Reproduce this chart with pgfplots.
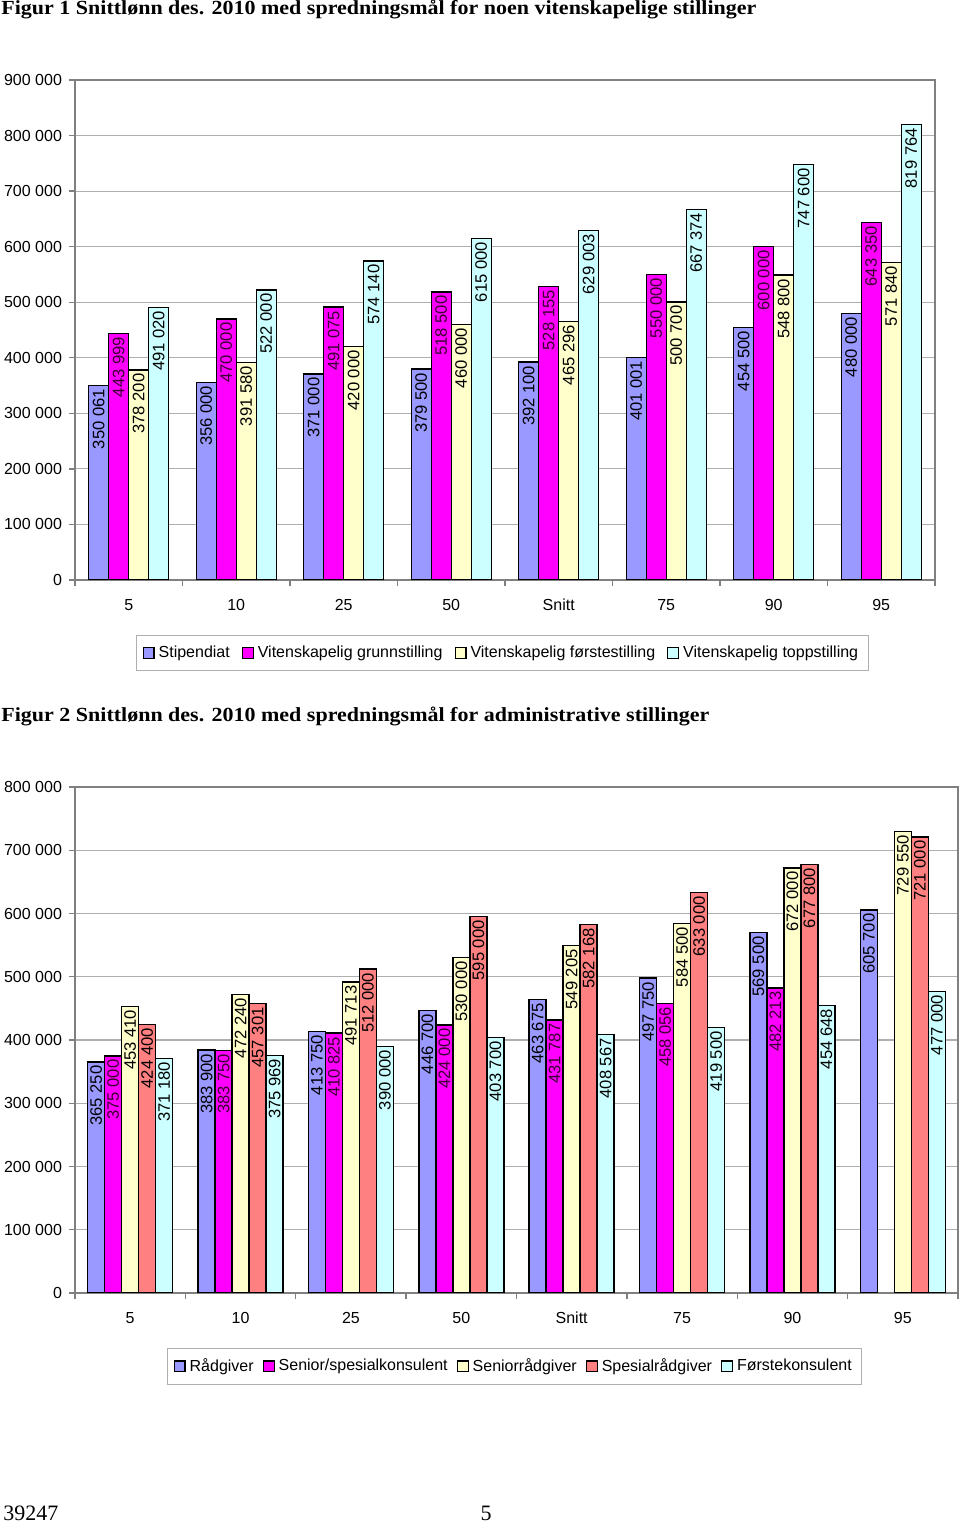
\documentclass[border=0pt]{standalone}
\usepackage{fontspec}
\setmainfont{Liberation Sans}
\newfontfamily\seriffont{Liberation Serif}
\newfontfamily\titlefont{Liberation Serif}[FakeStretch=1.10]
\usepackage{pgfplots}
\pgfplotsset{compat=1.18}

\definecolor{cblue}{RGB}{153,153,255}
\definecolor{cmag}{RGB}{255,0,255}
\definecolor{cyel}{RGB}{255,255,204}
\definecolor{ccyan}{RGB}{204,255,255}
\definecolor{cred}{RGB}{255,128,128}
\definecolor{lblmag}{RGB}{60,0,50}
\definecolor{axgray}{RGB}{128,128,128}
\definecolor{gridgray}{RGB}{175,175,175}

\pgfplotsset{
  mychart/.style={
    scale only axis,
    ybar=0pt,
    xmin=-0.5, xmax=7.5,
    xtick={-0.5,0.5,...,7.5},
    xticklabels={5,10,25,50,Snitt,75,90,95},
    x tick label as interval,
    ymin=0,
    scaled y ticks=false,
    /pgf/number format/.cd, fixed, precision=0, 1000 sep={\ }, assume math mode=true,
    /pgfplots/.cd,
    tick align=outside,
    xtick pos=bottom, ytick pos=left,
    major tick length=3pt,
    axis line style={axgray, line width=0.7pt},
    tick style={axgray, line width=0.7pt},
    ymajorgrids,
    grid style={gridgray, line width=0.6pt},
    ticklabel style={font=\fontsize{8}{9.6}\selectfont},
    xticklabel style={yshift=-3pt},
    nodes near coords,
    every node near coord/.append style={rotate=90, anchor=east, inner sep=1.5pt,
      font=\fontsize{8.3}{10}\selectfont, text=black},
    legend columns=-1,
    legend style={draw=gridgray, line width=0.6pt, font=\fontsize{8}{9.6}\selectfont,
      inner xsep=3pt, inner ysep=3pt,
      /tikz/every even column/.append style={column sep=4pt}},
    legend cell align=left,
    legend image code/.code={\draw[#1,draw=black,line width=0.6pt] (0pt,-2.7pt) rectangle (5.4pt,2.7pt);},
  },
  barb/.style={fill=#1, draw=black, line width=0.7pt},
  magnodes/.style={nodes near coords={\textcolor{lblmag}{\pgfmathprintnumber{\pgfplotspointmeta}}}},
}

\begin{document}
\begin{tikzpicture}
\useasboundingbox (0,0) rectangle (480pt,762.5pt);

\node[anchor=base west, inner sep=0pt, font=\titlefont\bfseries\fontsize{10}{12}\selectfont] at (0.5pt,755pt)
  {Figur 1 Snittlønn des. 2010 med spredningsmål for noen vitenskapelige stillinger};

\begin{axis}[mychart,
  at={(37.5pt,472.5pt)}, anchor=south west,
  width=430pt, height=250pt,
  ymax=900000, ytick={0,100000,...,900000},
  bar width=10pt,
  legend style={at={(0.497,-0.146)}, anchor=center},
]
\addplot[barb=cblue] coordinates {(0,350061) (1,356000) (2,371000) (3,379500) (4,392100) (5,401001) (6,454500) (7,480000)};
\addplot[barb=cmag, magnodes] coordinates {(0,443999) (1,470000) (2,491075) (3,518500) (4,528155) (5,550000) (6,600000) (7,643350)};
\addplot[barb=cyel] coordinates {(0,378200) (1,391580) (2,420000) (3,460000) (4,465296) (5,500700) (6,548800) (7,571840)};
\addplot[barb=ccyan] coordinates {(0,491020) (1,522000) (2,574140) (3,615000) (4,629003) (5,667374) (6,747600) (7,819764)};
\legend{Stipendiat, Vitenskapelig grunnstilling, Vitenskapelig førstestilling, Vitenskapelig toppstilling}
\end{axis}

\node[anchor=base west, inner sep=0pt, font=\titlefont\bfseries\fontsize{10}{12}\selectfont] at (0.5pt,401.5pt)
  {Figur 2 Snittlønn des. 2010 med spredningsmål for administrative stillinger};

\begin{axis}[mychart,
  at={(37.5pt,116pt)}, anchor=south west,
  width=441.5pt, height=253pt,
  ymax=800000, ytick={0,100000,...,800000},
  bar width=8.5pt,
  legend style={at={(0.498,-0.145)}, anchor=center,
    /tikz/every even column/.append style={column sep=2.5pt}},
]
\addplot[barb=cblue] coordinates {(0,365250) (1,383900) (2,413750) (3,446700) (4,463675) (5,497750) (6,569500) (7,605700)};
\addplot[barb=cmag, magnodes] coordinates {(0,375000) (1,383750) (2,410825) (3,424000) (4,431787) (5,458056) (6,482213)};
\addplot[barb=cyel] coordinates {(0,453410) (1,472240) (2,491713) (3,530000) (4,549205) (5,584500) (6,672000) (7,729550)};
\addplot[barb=cred] coordinates {(0,424400) (1,457301) (2,512000) (3,595000) (4,582168) (5,633000) (6,677800) (7,721000)};
\addplot[barb=ccyan] coordinates {(0,371180) (1,375969) (2,390000) (3,403700) (4,408567) (5,419500) (6,454648) (7,477000)};
\legend{Rådgiver, Senior/spesialkonsulent, Seniorrådgiver, Spesialrådgiver, Førstekonsulent}
\end{axis}

\node[anchor=base west, inner sep=0pt, font=\seriffont\fontsize{11}{13}\selectfont] at (1.5pt,2pt) {39247};
\node[anchor=base, inner sep=0pt, font=\seriffont\fontsize{11}{13}\selectfont] at (243pt,2pt) {5};
\end{tikzpicture}
\end{document}
